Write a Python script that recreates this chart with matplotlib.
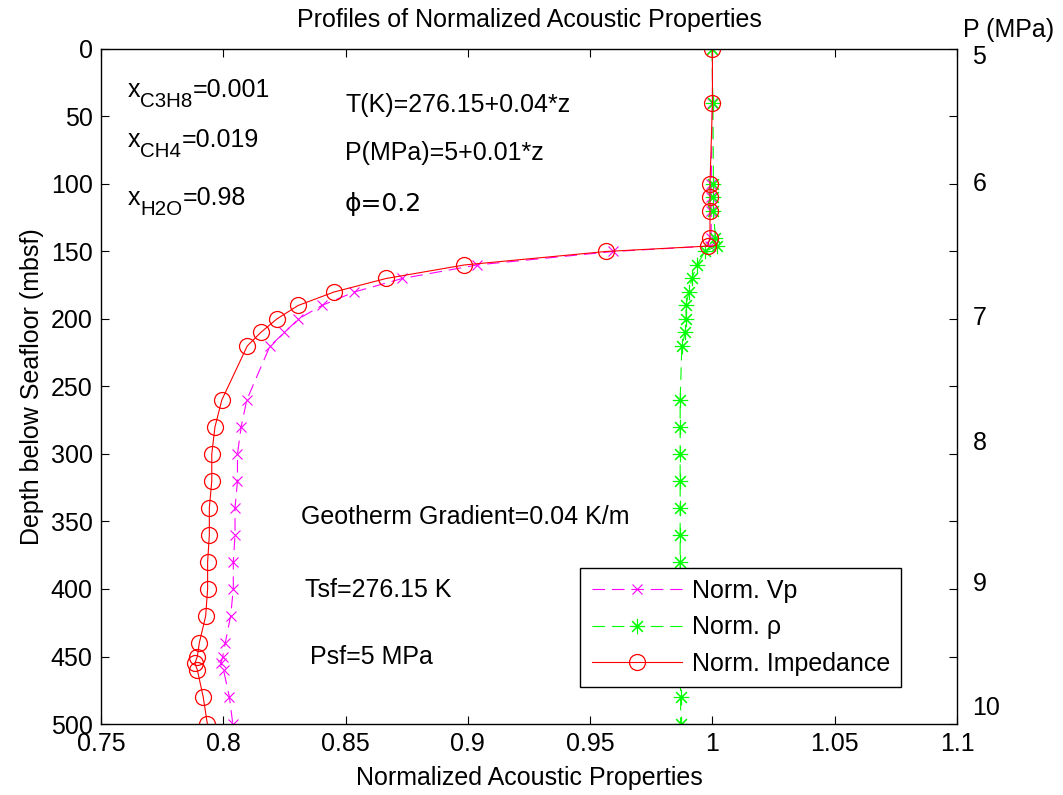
import matplotlib
matplotlib.use("Agg")
import matplotlib.pyplot as plt
import matplotlib.transforms as mtransforms

# depth below seafloor (m) where the profiles were sampled
depth = [0, 40, 100, 110, 120, 140, 146, 150, 160, 170, 180, 190, 200, 210, 220,
         260, 280, 300, 320, 340, 360, 380, 400, 420, 440, 450, 455, 460, 480, 500]

norm_vp = [1.0, 1.0, 0.9995, 0.9995, 0.9995, 0.9995, 0.999, 0.9595, 0.9037, 0.8732,
           0.8536, 0.8403, 0.8307, 0.825, 0.8191, 0.8096, 0.8073, 0.8058, 0.8058, 0.8048,
           0.8048, 0.8041, 0.8041, 0.803, 0.8008, 0.7998, 0.799, 0.8001, 0.8025, 0.8039]

norm_rho = [0.9998, 1.0002, 1.0004, 1.0004, 1.0004, 1.0012, 1.0018, 0.9969, 0.9937, 0.9916,
            0.9904, 0.9891, 0.9893, 0.9889, 0.9875, 0.9868, 0.9868, 0.9868, 0.9868, 0.9868,
            0.9868, 0.9868, 0.9868, 0.9868, 0.9868, 0.9868, 0.9868, 0.9868, 0.987, 0.987]

norm_imp = [1.0, 1.0, 0.999, 0.999, 0.999, 0.999, 0.998, 0.9565, 0.8985, 0.8666,
            0.8453, 0.8306, 0.8219, 0.8153, 0.8098, 0.7994, 0.7966, 0.7953, 0.7953, 0.7943,
            0.7943, 0.7936, 0.7936, 0.7928, 0.7902, 0.7894, 0.7884, 0.7894, 0.7918, 0.7935]

# pressure labels written at the right of the axes
p_labels = ["5", "6", "7", "8", "9", "10"]
p_label_depth = [6, 100, 199, 292, 396, 488]

# mole fractions: species subscript and value
species = ["C3H8", "CH4", "H2O"]
fractions = ["0.001", "0.019", "0.98"]

x_ticks = [0.75, 0.8, 0.85, 0.9, 0.95, 1, 1.05, 1.1]
x_ticklabels = ["0.75", "0.8", "0.85", "0.9", "0.95", "1", "1.05", "1.1"]
y_ticks = [0, 50, 100, 150, 200, 250, 300, 350, 400, 450, 500]

plt.rcParams["font.family"] = ["Liberation Sans", "DejaVu Sans"]
plt.rcParams["lines.scale_dashes"] = False

FS = 18
DPI = 100

fig = plt.figure(figsize=(10.63, 7.95), dpi=DPI)
ax = fig.add_axes([0.095, 0.0893, 0.8053, 0.8491])

ax.plot(norm_vp, depth, color="#ff00ff", ls=(0, (9, 5)), lw=0.8,
        marker="x", ms=7, mew=0.8, label="Norm. Vp")
ax.plot(norm_rho, depth, color="#00ff00", ls=(0, (9, 5)), lw=0.8,
        marker=(8, 2, 0), ms=11, mew=0.8, label="Norm. \u03c1")
ax.plot(norm_imp, depth, color="#ff0000", ls="-", lw=0.8,
        marker="o", ms=11.5, mew=0.9, mfc="none", label="Norm. Impedance")

ax.set_xlim(0.75, 1.1)
ax.set_ylim(500, 0)
ax.set_xticks(x_ticks)
ax.set_xticklabels(x_ticklabels)
ax.set_yticks(y_ticks)
ax.tick_params(direction="in", length=6, width=0.8, top=True, right=True,
               labelsize=FS, pad=6)
for s in ax.spines.values():
    s.set_linewidth(1.0)

ax.set_title("Profiles of Normalized Acoustic Properties", fontsize=FS, pad=16)
ax.set_xlabel("Normalized Acoustic Properties", fontsize=FS, labelpad=7)
ax.set_ylabel("Depth below Seafloor (mbsf)", fontsize=FS, labelpad=5)

renderer = fig.canvas.get_renderer()


def sub_label(x, z, base, sub, rest):
    # "x" + lowered subscript + "=value", laid out piece by piece
    t = ax.text(x, z, base, fontsize=FS, va="baseline")
    w1 = t.get_window_extent(renderer).width * 72 / DPI
    s = ax.annotate(sub, xy=(x, z), xytext=(w1, -7), textcoords="offset points",
                    fontsize=FS * 0.82, va="baseline")
    w2 = s.get_window_extent(renderer).width * 72 / DPI
    ax.annotate(rest, xy=(x, z), xytext=(w1 + w2, 0), textcoords="offset points",
                fontsize=FS, va="baseline")


for sp, fr, z in zip(species, fractions, [35.5, 72.5, 115.5]):
    sub_label(0.761, z, "x", sp, "=" + fr)

ax.text(0.8498, 46.7, "T(K)=276.15+0.04*z", fontsize=FS, va="baseline")
ax.text(0.8498, 82.2, "P(MPa)=5+0.01*z", fontsize=FS, va="baseline")
ax.text(0.8498, 120, "\u03d5=0.2", fontsize=FS, va="baseline",
        family=["DejaVu Sans", "Liberation Sans"])
ax.text(0.8318, 352, "Geotherm Gradient=0.04 K/m", fontsize=FS, va="baseline")
ax.text(0.8334, 406, "Tsf=276.15 K", fontsize=FS, va="baseline")
ax.text(0.8355, 455.6, "Psf=5 MPa", fontsize=FS, va="baseline")

# pressure scale on the right
trans = mtransforms.blended_transform_factory(ax.transAxes, ax.transData)
for lab, z in zip(p_labels, p_label_depth):
    ax.text(1.018, z, lab, transform=trans, fontsize=FS, ha="left", va="center",
            clip_on=False)
ax.text(1.007, 1.028, "P (MPa)", transform=ax.transAxes, fontsize=FS,
        ha="left", va="center", clip_on=False)

leg = ax.legend(loc="lower right", bbox_to_anchor=(0.9346, 0.0548), fontsize=FS,
                frameon=True, fancybox=False, edgecolor="black", framealpha=1,
                handlelength=3.6, handletextpad=0.4, labelspacing=0.5,
                borderpad=0.45, borderaxespad=0, numpoints=1)
leg.get_frame().set_linewidth(1.0)

fig.savefig("out.png", dpi=DPI)
